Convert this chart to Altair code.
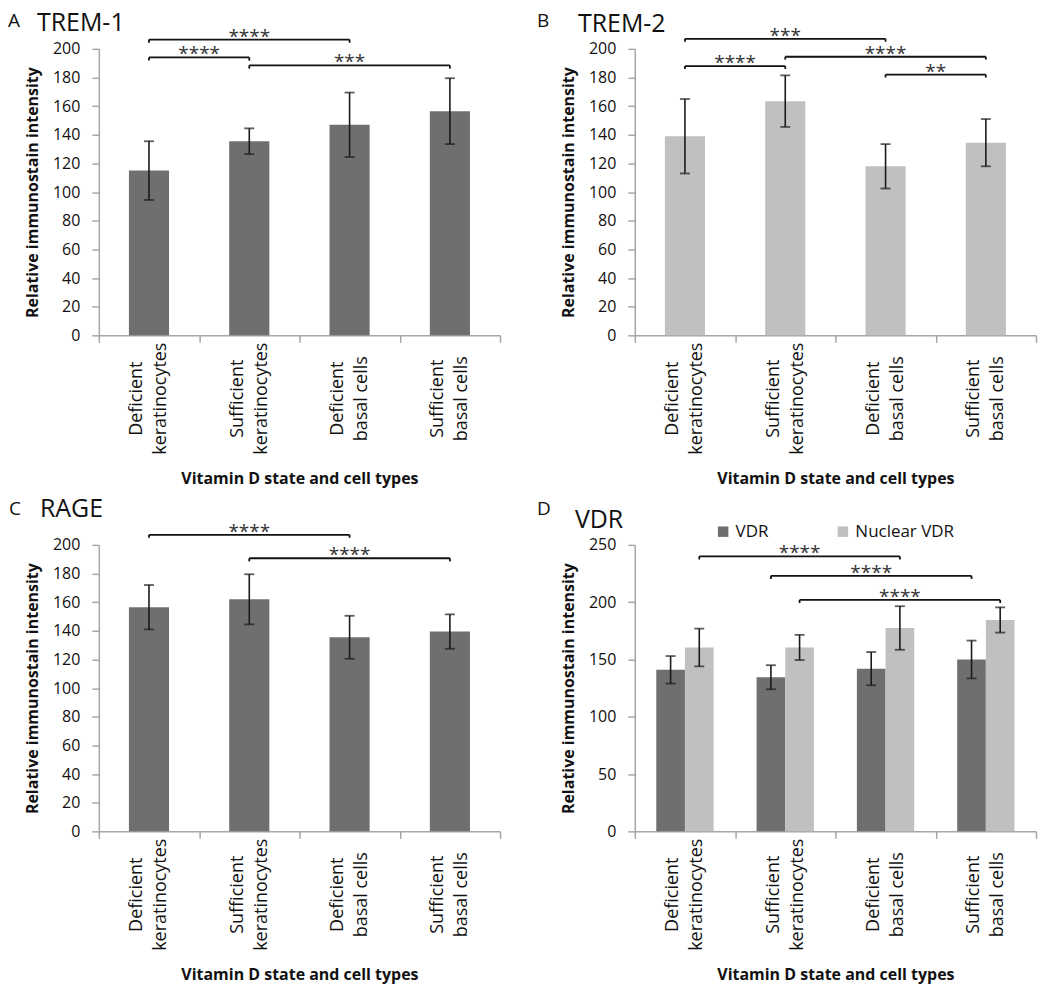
import altair as alt
import pandas as pd

# ---------------- data ----------------
categories = ["Deficient keratinocytes", "Sufficient keratinocytes",
              "Deficient basal cells", "Sufficient basal cells"]

trem1_mean = [115, 135.5, 147, 156.5]
trem1_err = [20.5, 9, 22.5, 23]
trem2_mean = [139, 163.5, 118, 134.5]
trem2_err = [26, 18, 15.5, 16.5]
rage_mean = [156.5, 162, 135.5, 139.5]
rage_err = [15.5, 17.5, 15, 12]
vdr_mean = [141, 134.5, 142, 150]
vdr_err = [12, 10.5, 14.5, 16.5]
nvdr_mean = [160.5, 160.5, 177.5, 184.5]
nvdr_err = [16.5, 11, 19, 11]
series_names = ["VDR", "Nuclear VDR"]

panel_letters = ["A", "B", "C", "D"]
panel_names = ["TREM-1", "TREM-2", "RAGE", "VDR"]

# significance brackets: (series, from category, to category, bar height, leg end, stars)
trem1_brackets = [(None, 0, 2, 206.5, 204.3, "****"), (None, 0, 1, 194, 191.8, "****"),
                  (None, 1, 3, 188.5, 186.2, "***")]
trem2_brackets = [(None, 0, 2, 207, 205, "***"), (None, 0, 1, 188, 186, "****"),
                  (None, 1, 3, 194.5, 192.5, "****"), (None, 2, 3, 182, 180, "**")]
rage_brackets = [(None, 0, 2, 207, 205, "****"), (None, 1, 3, 190.7, 188.5, "****")]
vdr_brackets = [("Nuclear VDR", 0, 2, 240, 237.3, "****"), ("VDR", 1, 3, 223, 220.3, "****"),
                ("Nuclear VDR", 1, 3, 202, 199.3, "****")]

# ---------------- style ----------------
FONT = "Open Sans"
DARK = "#6f6f6f"
LIGHT = "#c0c0c0"
AXIS_GREY = "#a6a6a6"
INK = "#111111"
W, H = 402, 287
XOFF_PAD = 0.75

label_expr = ("[slice(datum.label, 0, indexof(datum.label, ' ')), "
              "slice(datum.label, indexof(datum.label, ' ') + 1)]")

X_TITLE = "Vitamin D state and cell types"
Y_TITLE = "Relative immunostain intensity"


def x_axis():
    return alt.Axis(title=X_TITLE, labelAngle=270,
                    labelAlign="center", labelBaseline="middle", labelExpr=label_expr,
                    labelLineHeight=24, labelFontSize=18, labelPadding=56,
                    labelOffset=-12,
                    labelOverlap=False, labelColor=INK, tickBand="extent",
                    tickSize=7, tickColor=AXIS_GREY, tickWidth=1.5,
                    domainColor=AXIS_GREY, domainWidth=1.5,
                    titleFontSize=16, titleFontWeight="bold", titleColor=INK,
                    titlePadding=16)


def y_axis(ymax, ystep):
    return alt.Axis(values=list(range(0, ymax + 1, ystep)),
                    title=Y_TITLE, grid=False,
                    domainColor=AXIS_GREY, domainWidth=1.5, tickColor=AXIS_GREY,
                    tickWidth=1.5, tickSize=7, labelPadding=12, labelFontSize=16,
                    labelColor=INK, titleFontSize=16, titleFontWeight="bold",
                    titlePadding=12, titleColor=INK)


def bracket_frames(brackets, grouped):
    half = 0.5 / (2 + 2 * XOFF_PAD)
    rows, legs = [], []
    for ser, a, b, yb, yl, stars in brackets:
        off = 0.0
        if grouped:
            off = -half if ser == series_names[0] else half
        x1 = a + 0.5 + off
        x2 = b + 0.5 + off
        rows.append({"x1": x1, "x2": x2, "xm": (x1 + x2) / 2, "by": yb, "yl": yl, "stars": stars})
        legs.append({"lx": x1, "by": yb, "yl": yl})
        legs.append({"lx": x2, "by": yb, "yl": yl})
    return pd.DataFrame(rows), pd.DataFrame(legs)


def panel(idx, df, ymax, ystep, brackets, color=None, grouped=False, text_pos=None):
    yscale = alt.Scale(domain=[0, ymax], nice=False)
    xscale = alt.Scale(paddingInner=0, paddingOuter=0)

    def X():
        return alt.X("cat:N", sort=categories, scale=xscale, axis=x_axis())

    def Y(field):
        return alt.Y(field, scale=yscale, axis=y_axis(ymax, ystep))

    base = alt.Chart(df)
    enc_extra = {}
    if grouped:
        enc_extra["xOffset"] = alt.XOffset("series:N", sort=series_names,
                                           scale=alt.Scale(paddingOuter=XOFF_PAD, paddingInner=0))
        bars = base.mark_bar().encode(
            x=X(), y=Y("mean:Q"),
            color=alt.Color("series:N", sort=series_names,
                            scale=alt.Scale(domain=series_names, range=[DARK, LIGHT]),
                            legend=alt.Legend(orient="none", legendX=80, legendY=-22,
                                              direction="horizontal", title=None,
                                              symbolType="square", symbolSize=110,
                                              symbolStrokeWidth=0, symbolOpacity=1,
                                              labelFontSize=17, labelColor=INK,
                                              columnPadding=66, labelOffset=4)),
            **enc_extra)
    else:
        bars = base.mark_bar(width=alt.RelativeBandSize(0.4), color=color).encode(
            x=X(), y=Y("mean:Q"))
    err = base.mark_rule(color="#1a1a1a", strokeWidth=1.6).encode(
        x=X(), y=Y("lo:Q"), y2="hi:Q", **enc_extra)
    cap_lo = base.mark_tick(color="#1a1a1a", size=10, thickness=1.8).encode(
        x=X(), y=Y("lo:Q"), **enc_extra)
    cap_hi = base.mark_tick(color="#1a1a1a", size=10, thickness=1.8).encode(
        x=X(), y=Y("hi:Q"), **enc_extra)
    data_layer = alt.layer(bars, err, cap_lo, cap_hi)

    bdf, ldf = bracket_frames(brackets, grouped)
    qx = alt.Scale(domain=[0, 4], nice=False, zero=False)
    br = alt.Chart(bdf).mark_rule(color="#111111", strokeWidth=1.8).encode(
        x=alt.X("x1:Q", scale=qx, axis=None), x2="x2:Q", y=Y("by:Q"))
    legs = alt.Chart(ldf).mark_rule(color="#111111", strokeWidth=1.8).encode(
        x=alt.X("lx:Q", scale=qx, axis=None), y=Y("by:Q"), y2="yl:Q")
    stars = alt.Chart(bdf).mark_text(baseline="alphabetic", align="center", dy=3,
                                     fontSize=19, color="#333333").encode(
        x=alt.X("xm:Q", scale=qx, axis=None), y=Y("by:Q"), text="stars:N")
    bracket_layer = alt.layer(br, legs, stars)

    lx, ly, tx, ty = text_pos
    letter = alt.Chart(pd.DataFrame({"t": [panel_letters[idx]]})).mark_text(
        align="left", baseline="alphabetic", fontSize=19, color=INK).encode(
        x=alt.value(lx), y=alt.value(ly), text="t:N")
    title = alt.Chart(pd.DataFrame({"t": [panel_names[idx]]})).mark_text(
        align="left", baseline="alphabetic", fontSize=25, color=INK).encode(
        x=alt.value(tx), y=alt.value(ty), text="t:N")

    return alt.layer(data_layer, bracket_layer, letter, title).resolve_scale(
        x="independent").properties(width=W, height=H)


def simple_df(means, errs):
    return pd.DataFrame({"cat": categories, "mean": means,
                         "lo": [m - e for m, e in zip(means, errs)],
                         "hi": [m + e for m, e in zip(means, errs)]})


df_a = simple_df(trem1_mean, trem1_err)
df_b = simple_df(trem2_mean, trem2_err)
df_c = simple_df(rage_mean, rage_err)
rows = []
for ser, means, errs in [("VDR", vdr_mean, vdr_err), ("Nuclear VDR", nvdr_mean, nvdr_err)]:
    for c, m, e in zip(categories, means, errs):
        rows.append({"cat": c, "series": ser, "mean": m, "lo": m - e, "hi": m + e})
df_d = pd.DataFrame(rows)

pA = panel(0, df_a, 200, 20, trem1_brackets, color=DARK, text_pos=(-91, -22, -62, -18))
pB = panel(1, df_b, 200, 20, trem2_brackets, color=LIGHT, text_pos=(-98, -22, -57, -17))
pC = panel(2, df_c, 200, 20, rage_brackets, color=DARK, text_pos=(-90, -30, -59, -28))
pD = panel(3, df_d, 250, 50, vdr_brackets, grouped=True, text_pos=(-98, -30, -60, -17))

chart = alt.concat(pA, pB, pC, pD, columns=2, spacing={"row": 210, "column": 135},
                   bounds="flush").resolve_legend(color="independent").properties(
    padding={"left": 0, "top": 2, "right": 5, "bottom": 5}
).configure(font=FONT, background="white").configure_view(stroke=None)

chart.save("out.html", embed_options={"renderer": "svg", "actions": False})
